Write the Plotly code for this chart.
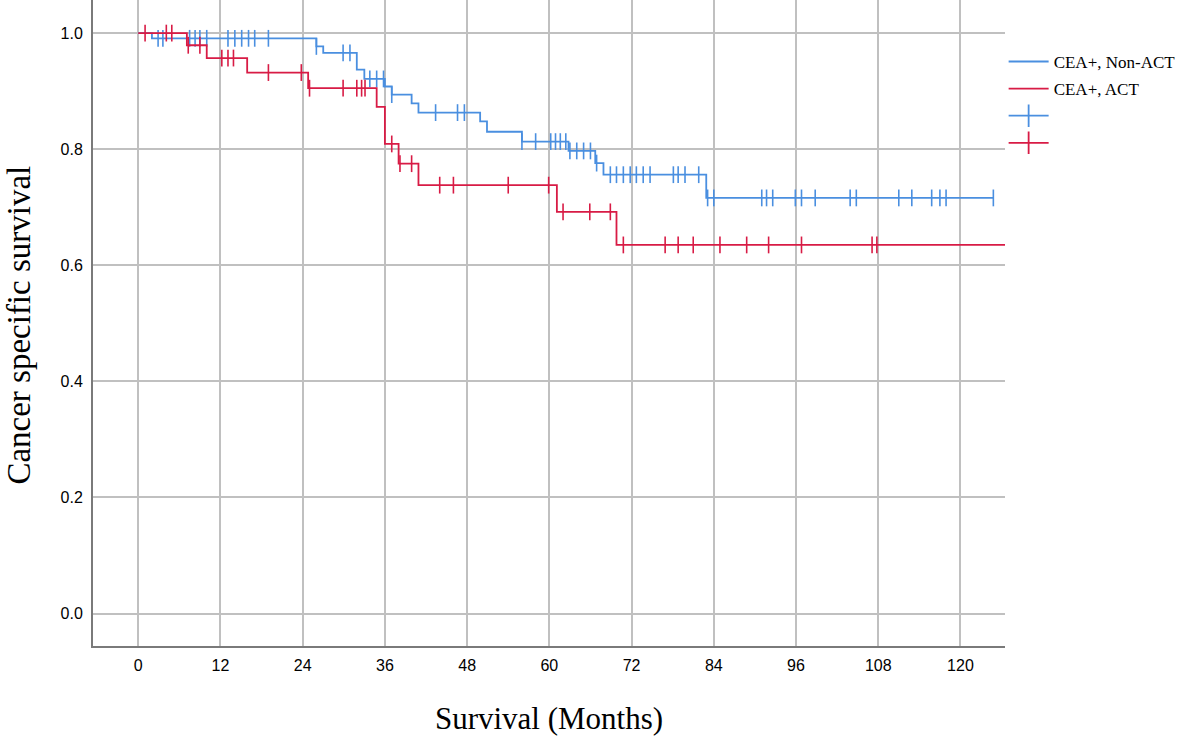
import plotly.graph_objects as go

# ---- data ----
nonact_event_times = [2.0, 26.0, 27.0, 31.9, 33.0, 36.0, 37.0, 39.9, 40.9, 49.9, 50.9, 56.0, 62.8, 66.7, 67.9, 82.9]
nonact_surv = [0.991, 0.977, 0.966, 0.937, 0.921, 0.908, 0.894, 0.879, 0.863, 0.848, 0.830, 0.813, 0.797, 0.776, 0.756, 0.716]
nonact_censor = [2.9, 3.6, 7.5, 8.3, 9.0, 10.0, 13.1, 14.1, 15.1, 16.1, 17.0, 19.0, 26.0, 29.9, 30.9,
                 33.8, 34.8, 35.8, 37.0, 43.4, 46.6, 47.6, 56.0, 58.0, 60.2, 60.9, 61.6, 62.4, 63.0,
                 64.0, 65.0, 66.0, 66.9, 68.9, 69.8, 70.8, 71.8, 72.7, 73.7, 74.7, 78.1, 78.8, 79.8,
                 81.8, 83.1, 84.0, 91.0, 91.7, 92.6, 95.9, 96.8, 98.8, 103.9, 104.8, 111.0, 112.9,
                 115.8, 117.0, 117.9, 124.8]
nonact_end = 124.8

act_event_times = [7.1, 10.0, 15.9, 24.8, 34.8, 36.0, 38.0, 40.9, 61.1, 69.8]
act_surv = [0.979, 0.957, 0.932, 0.905, 0.873, 0.809, 0.775, 0.738, 0.692, 0.635]
act_censor = [1.0, 4.1, 4.9, 7.3, 9.0, 12.2, 13.1, 13.9, 19.0, 23.8, 25.0, 29.9, 31.9, 32.6, 33.1,
              37.0, 38.2, 39.9, 44.0, 46.0, 54.0, 59.9, 62.0, 65.9, 68.9, 70.8, 76.9, 78.8, 81.0,
              84.9, 88.8, 92.0, 96.8, 107.1, 107.8]
act_end = 128.0

x_ticks = [0, 12, 24, 36, 48, 60, 72, 84, 96, 108, 120]
y_ticks = [0.0, 0.2, 0.4, 0.6, 0.8, 1.0]

series_names = ["CEA+, Non-ACT", "CEA+, ACT"]
x_title = "Survival (Months)"
y_title = "Cancer specific survival"
BLUE = "#4a8fe0"
RED = "#d81b45"


def step_xy(times, surv, end):
    return [0] + list(times) + [end], [1.0] + list(surv) + [surv[-1]]


def surv_at(t, times, surv):
    s = 1.0
    for ti, si in zip(times, surv):
        if t >= ti:
            s = si
    return s


fig = go.Figure()

for i, (name, times, surv, cens, end, col) in enumerate([
    (series_names[0], nonact_event_times, nonact_surv, nonact_censor, nonact_end, BLUE),
    (series_names[1], act_event_times, act_surv, act_censor, act_end, RED),
]):
    sx, sy = step_xy(times, surv, end)
    fig.add_trace(go.Scatter(x=sx, y=sy, mode="lines", line=dict(color=col, width=1.8, shape="hv"),
                             name=name, showlegend=True, legendrank=i + 1, legendgroup=f"g{i}"))
    cy = [surv_at(t, times, surv) for t in cens]
    fig.add_trace(go.Scatter(x=cens, y=cy, mode="markers",
                             marker=dict(symbol="line-ns", size=12, line=dict(color=col, width=1.6)),
                             showlegend=False, hoverinfo="x+y", legendgroup=f"g{i}"))

# legend proxies for censor symbols
for j, col in enumerate([BLUE, RED]):
    fig.add_trace(go.Scatter(x=[None], y=[None], mode="lines+markers",
                             line=dict(color=col, width=1.8),
                             marker=dict(symbol="line-ns", size=16, line=dict(color=col, width=1.8)),
                             name=" ", showlegend=True, legendrank=3 + j, legendgroup=f"c{j}"))

fig.update_layout(
    width=1181, height=739,
    margin=dict(l=93, r=176, t=0, b=93, autoexpand=False),
    paper_bgcolor="white", plot_bgcolor="white",
    showlegend=True,
    legend=dict(x=0.9985, y=0.932, xanchor="left", yanchor="top",
                font=dict(family="Liberation Serif", size=17, color="black"),
                bgcolor="rgba(0,0,0,0)", itemwidth=40, tracegroupgap=2),
    xaxis=dict(range=[-6.6, 126.5], tickvals=x_ticks, ticktext=[str(v) for v in x_ticks],
               showgrid=True, gridcolor="#c0c0c0", gridwidth=1.6, zeroline=False,
               showline=True, linecolor="#7a7a7a", linewidth=2,
               ticks="outside", ticklen=4, tickcolor="rgba(0,0,0,0)",
               tickfont=dict(family="Liberation Sans", size=16, color="black"),
               title=dict(text=x_title, standoff=34,
                          font=dict(family="Liberation Serif", size=31, color="black"))),
    yaxis=dict(range=[-0.056, 1.057], tickvals=y_ticks, ticktext=[f"{v:.1f}" for v in y_ticks],
               showgrid=True, gridcolor="#c0c0c0", gridwidth=1.6, zeroline=False,
               showline=True, linecolor="#7a7a7a", linewidth=2,
               ticks="outside", ticklen=5, tickcolor="rgba(0,0,0,0)",
               tickfont=dict(family="Liberation Sans", size=16, color="black")),
    annotations=[dict(text=y_title, textangle=-90, xref="paper", yref="paper",
                      x=-0.0815, y=0.497, xanchor="center", yanchor="middle", showarrow=False,
                      font=dict(family="Liberation Serif", size=33, color="black"))],
)

fig.write_html("out.html", config={"displayModeBar": False},
               post_script="document.body.style.margin='0';")
